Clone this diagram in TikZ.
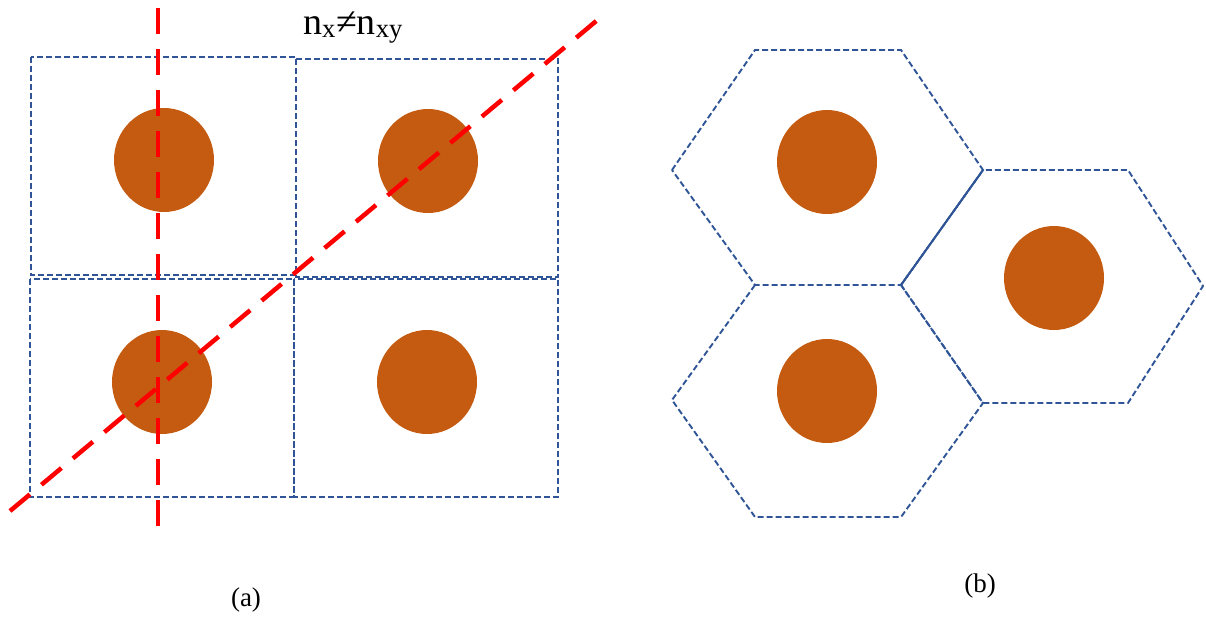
\documentclass[tikz,border=0pt]{standalone}
\usepackage{fontspec}
\setmainfont{Liberation Serif}
\usepackage{tikz}
\usetikzlibrary{positioning}
\usepackage{xcolor}
\definecolor{cellblue}{HTML}{2F5597}
\definecolor{grainorange}{HTML}{C55A11}
\definecolor{cutred}{HTML}{FF0000}

\begin{document}
\begin{tikzpicture}[x=1pt,y=-1pt,
    cell/.style={draw=cellblue,line width=1.9pt,dash pattern=on 6pt off 3pt},
    grain/.style={fill=grainorange},
    cut/.style={draw=cutred,line width=4.5pt,dash pattern=on 26pt off 15pt},
    caption/.style={font=\fontsize{27}{32}\selectfont,inner sep=0pt}]
\useasboundingbox (0,0) rectangle (1206,616);
% (a) square cells
\draw[cell] (31,57) rectangle (296,275);
\draw[cell] (296,59) rectangle (558,277);
\draw[cell] (30,279) rectangle (294,497);
\draw[cell] (294,279) rectangle (558,497);
\fill[grain] (164,160) ellipse [x radius=50,y radius=52];
\fill[grain] (428,161) ellipse [x radius=50,y radius=52];
\fill[grain] (162,382) ellipse [x radius=50,y radius=52];
\fill[grain] (427,382) ellipse [x radius=50,y radius=52];
% cutting directions
\draw[cut] (158,8) -- (158,537);
\draw[cut] (10,511) -- (607,12);
\node[inner sep=0pt,anchor=base west,font=\fontsize{38}{44}\selectfont] (dirs) at (303,34)
  {n\textsubscript{x}≠n\textsubscript{xy}};
% (b) hexagonal cells
\draw[cell] (672,170) -- (755,50) -- (901,50) -- (983,170) -- (901,285) -- (755,285) -- cycle;
\draw[cell] (901,285) -- (983,170) -- (1128,170) -- (1203,286) -- (1128,403) -- (983,403) -- cycle;
\draw[cell] (755,285) -- (672,400) -- (755,517) -- (901,517) -- (983,403) -- (901,285);
\draw[cell,solid] (901,285) -- (983,170);
\fill[grain] (827,162) ellipse [x radius=50,y radius=52];
\fill[grain] (1054,278) ellipse [x radius=50,y radius=52];
\fill[grain] (827,391) ellipse [x radius=50,y radius=52];
% captions
\node[caption] (capa) at (246,600) {(a)};
\node[caption] (capb) at (980,586) {(b)};
\end{tikzpicture}
\end{document}
